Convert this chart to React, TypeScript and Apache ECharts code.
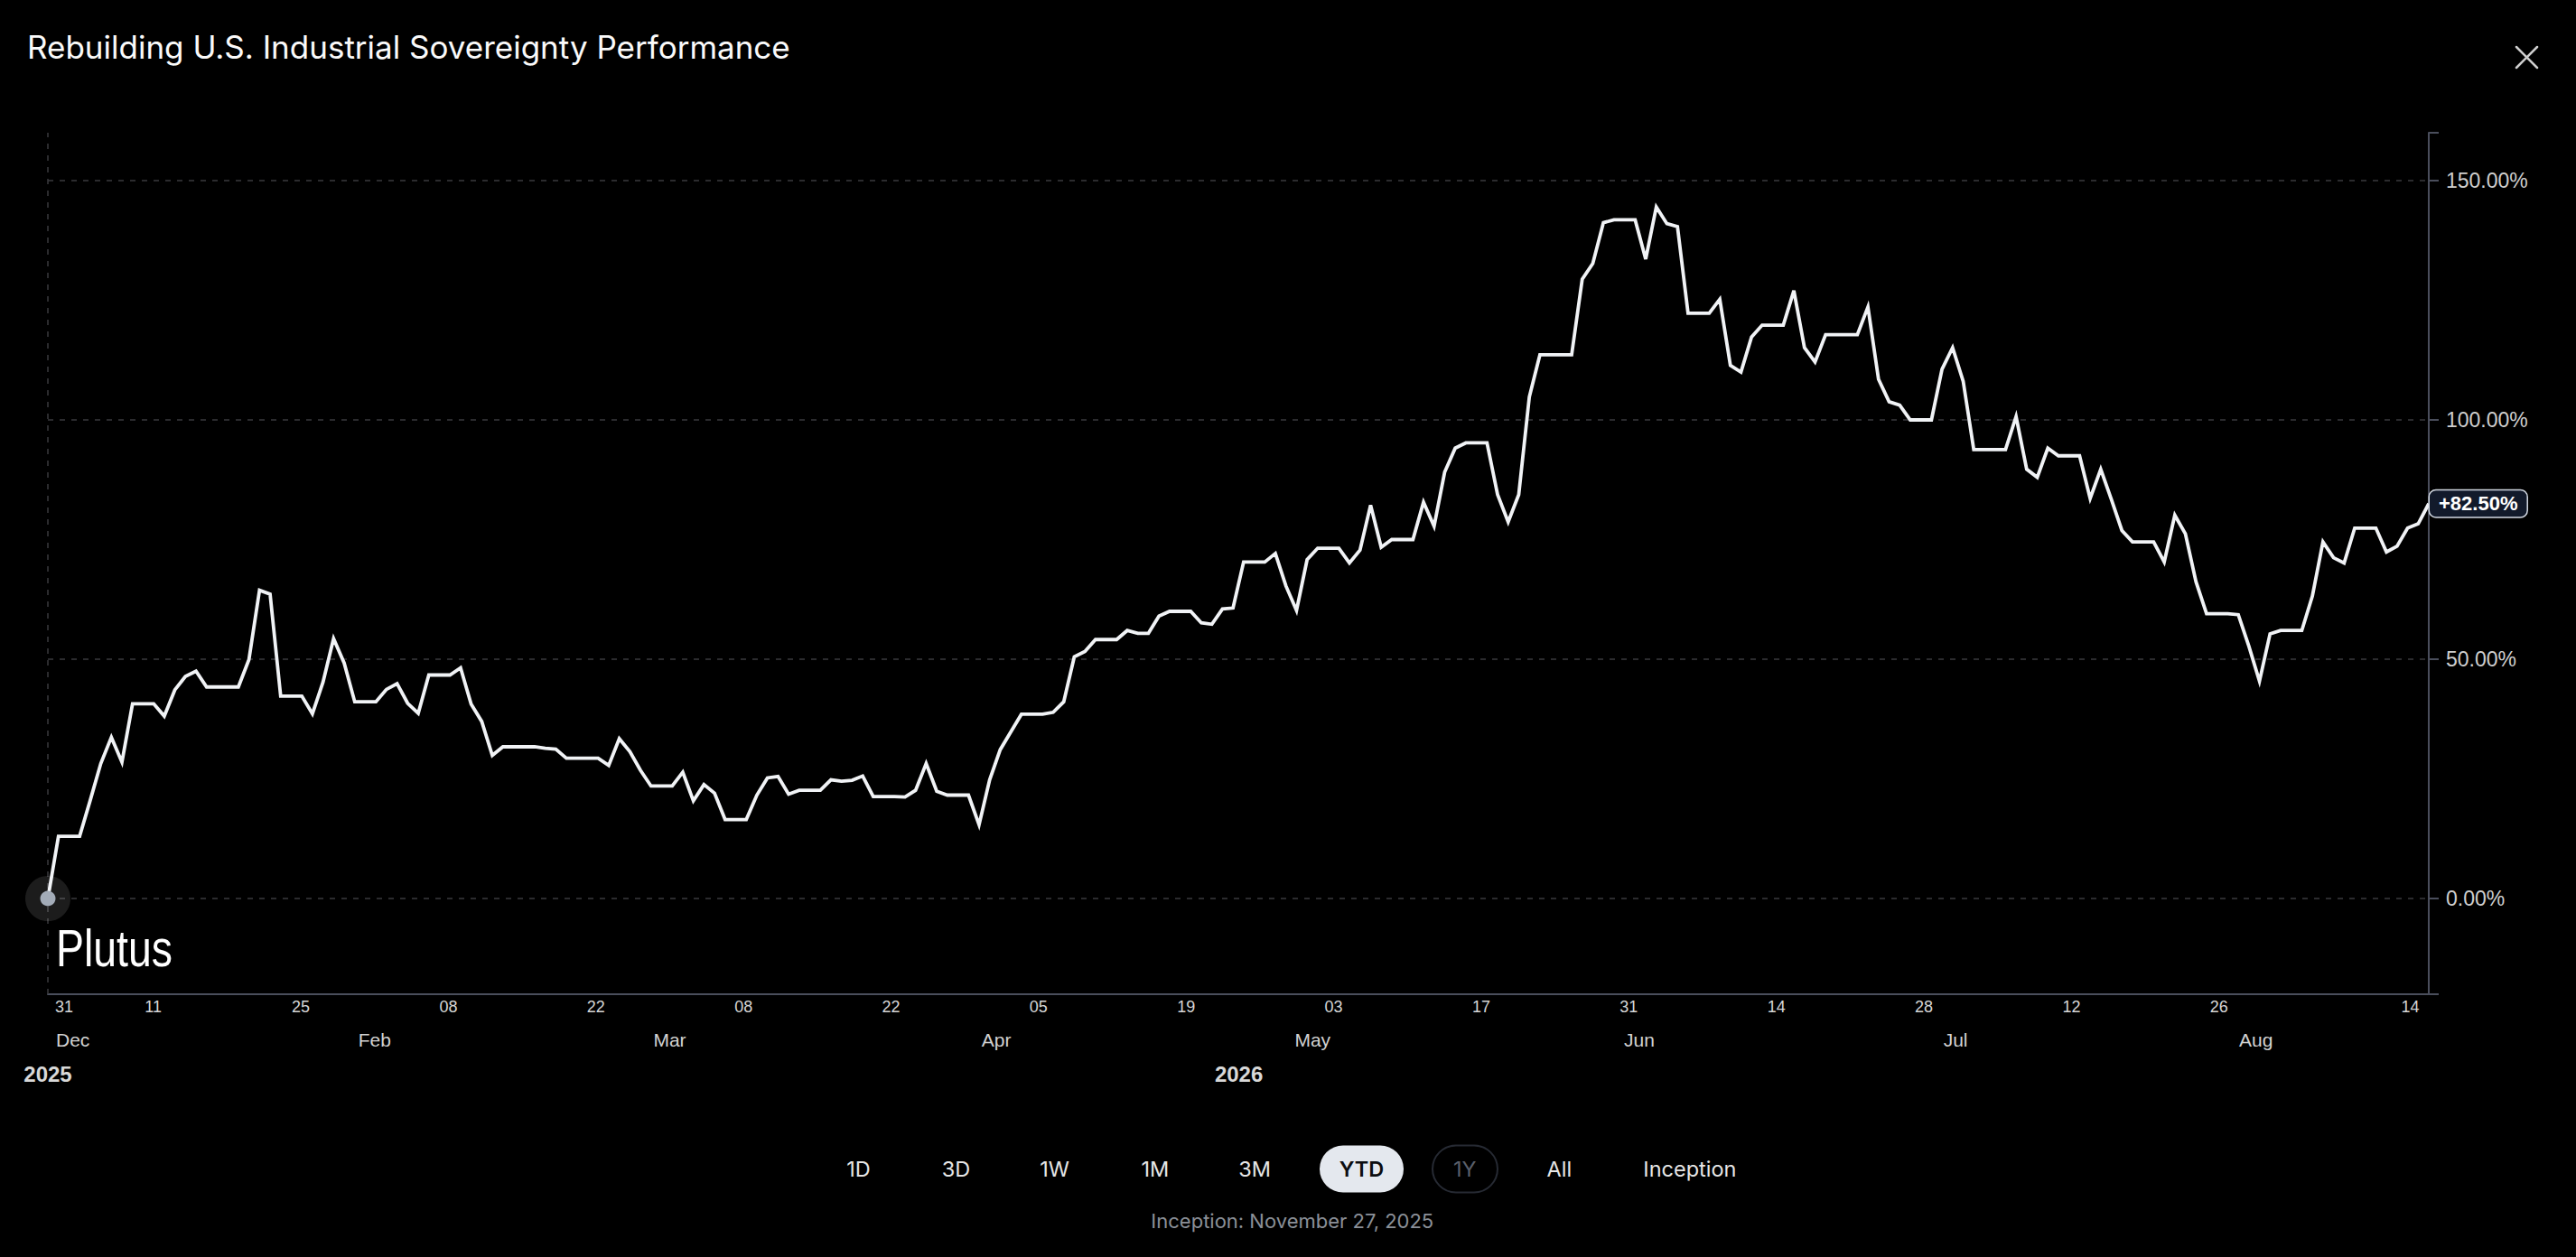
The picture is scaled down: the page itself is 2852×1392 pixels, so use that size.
import React, { useEffect, useRef } from "react";
import * as echarts from "echarts";

const TITLE = "Rebuilding U.S. Industrial Sovereignty Performance";
const START_DATE = "2026-01-01";

// Daily cumulative performance (%), month by month
const janValues = [0, 13.0, 13.0, 13.0, 20.5, 28.2, 33.7, 28.5, 40.7, 40.7, 40.7, 38.1, 43.6, 46.4, 47.5, 44.2, 44.2, 44.2, 44.2, 49.9, 64.4, 63.6, 42.3, 42.3, 42.3, 38.6, 45.2, 54.3, 49.2, 41.1, 41.1];
const febValues = [41.1, 43.7, 44.9, 40.8, 38.7, 46.7, 46.7, 46.7, 48.2, 40.6, 37.0, 29.9, 31.7, 31.7, 31.7, 31.7, 31.4, 31.2, 29.3, 29.3, 29.3, 29.3, 27.8, 33.4, 30.7, 26.8, 23.5, 23.5];
const marValues = [23.5, 26.4, 20.4, 23.8, 22.0, 16.5, 16.5, 16.5, 21.6, 25.2, 25.5, 21.8, 22.6, 22.6, 22.6, 24.8, 24.5, 24.7, 25.6, 21.3, 21.3, 21.3, 21.2, 22.6, 28.2, 22.4, 21.6, 21.6, 21.6, 15.4, 24.8];
const aprValues = [31.1, 34.8, 38.5, 38.5, 38.5, 38.9, 41.1, 50.5, 51.6, 54.1, 54.1, 54.1, 56.0, 55.4, 55.4, 59.0, 60.0, 60.0, 60.0, 57.6, 57.3, 60.5, 60.7, 70.3, 70.3, 70.3, 72.1, 65.3, 60.2, 70.8];
const mayValues = [73.2, 73.2, 73.2, 70.1, 72.8, 82.2, 73.4, 75.0, 75.0, 75.0, 82.8, 77.8, 89.1, 94.1, 95.2, 95.2, 95.2, 84.4, 78.7, 84.4, 104.8, 113.6, 113.6, 113.6, 113.6, 129.4, 132.7, 141.2, 141.8, 141.8, 141.8];
const junValues = [133.6, 144.5, 141.0, 140.4, 122.3, 122.3, 122.3, 125.2, 111.4, 110.0, 117.3, 119.8, 119.8, 119.8, 127.0, 115.1, 112.1, 117.8, 117.8, 117.8, 117.8, 123.6, 108.5, 103.8, 103.1, 100.0, 100.0, 100.0, 110.6, 115.1];
const julValues = [108.1, 93.8, 93.8, 93.8, 93.8, 100.7, 89.7, 88.0, 94.1, 92.5, 92.5, 92.5, 83.6, 89.7, 83.4, 76.9, 74.5, 74.5, 74.5, 70.3, 80.1, 76.2, 66.2, 59.5, 59.5, 59.5, 59.3, 52.7, 45.4, 55.3, 56.0];
const augValues = [56.0, 56.0, 63.2, 74.5, 71.2, 70.1, 77.4, 77.4, 77.4, 72.4, 73.6, 77.4, 78.3, 82.5];

// Right value axis
const yTickValues = [-20, 0, 50, 100, 150, 160];
const yLabelValues = [0, 50, 100, 150];
const yGridValues = [0, 50, 100, 150];

// Time scale labels (days counted from the first point)
const dayTickDays = [0, 10, 24, 38, 52, 66, 80, 94, 108, 122, 136, 150, 164, 178, 192, 206, 225];
const dayTickLabels = ["31", "11", "25", "08", "22", "08", "22", "05", "19", "03", "17", "31", "14", "28", "12", "26", "14"];
const monthTickDays = [0, 31, 59, 90, 120, 151, 181, 209.5];
const monthTickLabels = ["Dec", "Feb", "Mar", "Apr", "May", "Jun", "Jul", "Aug"];
const yearTickDays = [0, 113];
const yearTickLabels = ["2025", "2026"];
const labelAxisMaxDay = 225.9;

const rangeButtons = ["1D", "3D", "1W", "1M", "3M", "YTD", "1Y", "All", "Inception"];
const activeButton = "YTD";
const disabledButton = "1Y";
const inceptionText = "Inception: November 27, 2025";
const logoText = "Plutus";

const allValues = [
  ...janValues, ...febValues, ...marValues, ...aprValues,
  ...mayValues, ...junValues, ...julValues, ...augValues,
];

function buildDates(start: string, n: number): string[] {
  const out: string[] = [];
  const d0 = new Date(start + "T00:00:00Z").getTime();
  for (let i = 0; i < n; i++) out.push(new Date(d0 + i * 86400000).toISOString().slice(0, 10));
  return out;
}

function lookup(days: number[], labels: string[], v: number): string {
  for (let i = 0; i < days.length; i++) if (Math.abs(days[i] - v) < 1e-6) return labels[i];
  return "";
}

const AXIS_COLOR = "#4a4e5c";
const FONT = "Liberation Sans";
const UI_FONT = "Inter";

export default function App() {
  const ref = useRef<HTMLDivElement>(null);

  useEffect(() => {
    if (!ref.current) return;
    document.body.style.background = "#000";
    const chart = echarts.init(ref.current, undefined, { renderer: "svg" });
    const dates = buildDates(START_DATE, allValues.length);
    const lastValue = allValues[allValues.length - 1];

    const buttonCentersX = [950.5, 1058.5, 1167.6, 1278.8, 1389, 1507.5, 1621.8, 1726.4, 1870.9];
    const btnY = 1294.5;
    const graphics: any[] = [
      {
        type: "text", x: 30, y: 51.5, silent: true,
        style: { text: TITLE, fill: "#fafafa", fontSize: 35, fontWeight: 400, fontFamily: UI_FONT, align: "left", verticalAlign: "middle" },
      },
      { type: "line", silent: true, shape: { x1: 2786, y1: 52, x2: 2809, y2: 75 }, style: { stroke: "#cfcfcf", lineWidth: 2.5, lineCap: "round" } },
      { type: "line", silent: true, shape: { x1: 2786, y1: 75, x2: 2809, y2: 52 }, style: { stroke: "#cfcfcf", lineWidth: 2.5, lineCap: "round" } },
      {
        type: "text", x: 62, y: 1050, scaleX: 0.8, silent: true, z: 10,
        style: { text: logoText, fill: "#ffffff", fontSize: 58, fontFamily: FONT, align: "left", verticalAlign: "middle" },
      },
      { type: "rect", silent: true, shape: { x: 1461, y: 1268.5, width: 93, height: 52, r: 26 }, style: { fill: "#e4e8ee" } },
      { type: "rect", silent: true, shape: { x: 1586, y: 1268.5, width: 72, height: 52, r: 26 }, style: { fill: "none", stroke: "#262a33", lineWidth: 2 } },
      {
        type: "text", x: 1430.8, y: 1352, silent: true,
        style: { text: inceptionText, fill: "#8b9098", fontSize: 22, fontFamily: UI_FONT, align: "center", verticalAlign: "middle" },
      },
    ];
    rangeButtons.forEach((b, i) => {
      const active = b === activeButton;
      const disabled = b === disabledButton;
      graphics.push({
        type: "text", x: buttonCentersX[i], y: btnY, silent: true,
        style: {
          text: b, fontSize: 23.5, fontFamily: UI_FONT, fontWeight: active ? 600 : 400,
          fill: active ? "#0c0d10" : disabled ? "#5a5f6a" : "#e6e6e6",
          align: "center", verticalAlign: "middle",
        },
      });
    });

    const labelAxisBase = {
      type: "value" as const,
      min: 0,
      max: labelAxisMaxDay,
      position: "bottom" as const,
      axisLine: { show: false, onZero: false },
      axisTick: { show: false },
      splitLine: { show: false },
    };

    const option: any = {
      backgroundColor: "#000000",
      animation: false,
      grid: { left: 53, right: 163, top: 147, bottom: 291, containLabel: false },
      xAxis: [
        {
          type: "category", data: dates, boundaryGap: false, position: "bottom",
          axisLine: { show: true, onZero: false, lineStyle: { color: AXIS_COLOR, width: 2 } },
          axisTick: { show: false }, axisLabel: { show: false }, splitLine: { show: false },
        },
        {
          ...labelAxisBase,
          axisLabel: {
            customValues: dayTickDays,
            formatter: (v: number) => {
              const t = lookup(dayTickDays, dayTickLabels, v);
              return v === dayTickDays[0] ? `{first|${t}}` : t;
            },
            rich: { first: { padding: [0, 0, 0, 8], fontSize: 18, color: "#d6d6d6", fontFamily: FONT } },
            margin: 5, fontSize: 18, color: "#d6d6d6", fontFamily: FONT,
            alignMinLabel: "left", alignMaxLabel: "right",
          },
        },
        {
          ...labelAxisBase,
          axisLabel: {
            customValues: monthTickDays,
            formatter: (v: number) => {
              const t = lookup(monthTickDays, monthTickLabels, v);
              return v === monthTickDays[0] ? `{first|${t}}` : t;
            },
            rich: { first: { padding: [0, 0, 0, 9], fontSize: 21, color: "#d2d2d2", fontFamily: FONT } },
            margin: 40, fontSize: 21, color: "#d2d2d2", fontFamily: FONT,
            alignMinLabel: "left",
          },
        },
        {
          ...labelAxisBase,
          axisLabel: {
            customValues: yearTickDays,
            formatter: (v: number) => lookup(yearTickDays, yearTickLabels, v),
            margin: 76, fontSize: 24, fontWeight: "bold", color: "#d8d8d8", fontFamily: FONT,
          },
        },
      ],
      yAxis: {
        type: "value", position: "right", min: -20, max: 160,
        axisLine: { show: true, onZero: false, lineStyle: { color: AXIS_COLOR, width: 2 } },
        axisTick: { show: true, customValues: yTickValues, length: 11, inside: false, lineStyle: { color: AXIS_COLOR, width: 2 } },
        axisLabel: {
          customValues: yLabelValues,
          formatter: (v: number) => `${v.toFixed(2)}%`,
          margin: 19, fontSize: 23, color: "#cfcfcf", fontFamily: FONT,
        },
        splitLine: { show: false },
      },
      series: [
        {
          type: "line",
          data: allValues,
          xAxisIndex: 0,
          yAxisIndex: 0,
          showSymbol: false,
          symbol: "none",
          silent: true,
          z: 3,
          lineStyle: { color: "#f1f3f6", width: 3.8, join: "miter" },
          endLabel: {
            show: true,
            formatter: () => `+${lastValue.toFixed(2)}%`,
            color: "#ffffff", fontSize: 22, fontWeight: "bold", fontFamily: FONT,
            backgroundColor: "#121a2b", borderColor: "#d3d9e3", borderWidth: 1.5, borderRadius: 7,
            padding: [4, 10, 3, 10], distance: 1,
          },
          markLine: {
            silent: true, symbol: ["none", "none"], z: 1,
            label: { show: false },
            lineStyle: { color: "#3a3a3e", width: 1.5, type: [6, 7] },
            data: [
              ...yGridValues.map((v) => ({ yAxis: v })),
              { xAxis: dates[0] },
            ],
          },
          markPoint: {
            silent: true, symbol: "circle", label: { show: false },
            data: [
              { coord: [dates[0], 0], symbolSize: 50, itemStyle: { color: "rgba(255,255,255,0.11)" } },
              { coord: [dates[0], 0], symbolSize: 17, itemStyle: { color: "#a3acb8" } },
            ],
          },
        },
      ],
      graphic: graphics,
    };

    chart.setOption(option);
    return () => chart.dispose();
  }, []);

  return (
    <div
      ref={ref}
      style={{ position: "fixed", left: 0, top: 0, width: 2852, height: 1392, background: "#000" }}
    />
  );
}
